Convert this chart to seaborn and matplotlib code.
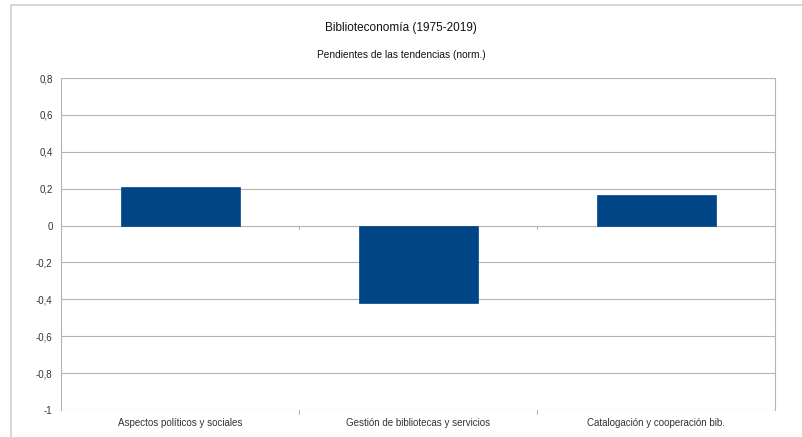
import matplotlib
matplotlib.use("Agg")
import matplotlib.pyplot as plt
import seaborn as sns
import pandas as pd
from matplotlib.lines import Line2D

categories = ["Aspectos políticos y sociales", "Gestión de bibliotecas y servicios", "Catalogación y cooperación bib."]
values = [0.21, -0.42, 0.165]
yticks = [0.8, 0.6, 0.4, 0.2, 0, -0.2, -0.4, -0.6, -0.8, -1]
ytick_labels = ["0,8", "0,6", "0,4", "0,2", "0", "-0,2", "-0,4", "-0,6", "-0,8", "-1"]
title = "Biblioteconomía (1975-2019)"
subtitle = "Pendientes de las tendencias (norm.)"

sns.set_style("white")
plt.rcParams["font.family"] = ["Liberation Sans", "DejaVu Sans"]

df = pd.DataFrame({"cat": categories, "val": values})

fig = plt.figure(figsize=(8.02, 4.37), dpi=100)
W, H = 802, 437
ax = fig.add_axes([61 / W, 1 - 410 / H, (775 - 61) / W, (410 - 78) / H])

sns.barplot(data=df, x="cat", y="val", color="#004586", width=0.5, ax=ax,
            saturation=1, zorder=3, edgecolor="#004586", linewidth=0.5)

ax.set_ylim(-1, 0.8)
ax.set_xlim(-0.5, 2.5)
ax.set_yticks(yticks)
ax.set_yticklabels(ytick_labels)
ax.yaxis.grid(True, color="#b3b3b3", linewidth=0.8, zorder=0)
ax.set_axisbelow(True)
ax.set_xlabel("")
ax.set_ylabel("")
for s in ["top", "bottom"]:
    ax.spines[s].set_visible(False)
for s in ["left", "right"]:
    ax.spines[s].set_color("#b3b3b3")
    ax.spines[s].set_linewidth(0.8)
ax.tick_params(axis="y", length=4, color="#b3b3b3", labelsize=7, labelcolor="#333333", pad=2)
ax.tick_params(axis="x", length=0, labelsize=7, labelcolor="#333333", pad=6)

# category boundary ticks at bottom
for xb in [0.5, 1.5]:
    ax.plot([xb, xb], [-1, -1.02], color="#b3b3b3", lw=0.8, clip_on=False)
    ax.plot([xb, xb], [0, -0.02], color="#b3b3b3", lw=0.8, zorder=1)

fig.text(0.5, 1 - 28 / H, title, ha="center", va="center", fontsize=8.5, color="#111111")
fig.text(0.5, 1 - 55 / H, subtitle, ha="center", va="center", fontsize=7.3, color="#111111")

# outer frame (partial)
fig.add_artist(Line2D([11 / W, 1], [1 - 5 / H, 1 - 5 / H], color="#d0d0d0", lw=1.2, transform=fig.transFigure))
fig.add_artist(Line2D([11 / W, 11 / W], [0, 1 - 5 / H], color="#d0d0d0", lw=1.2, transform=fig.transFigure))

fig.savefig("out.png", dpi=100)
